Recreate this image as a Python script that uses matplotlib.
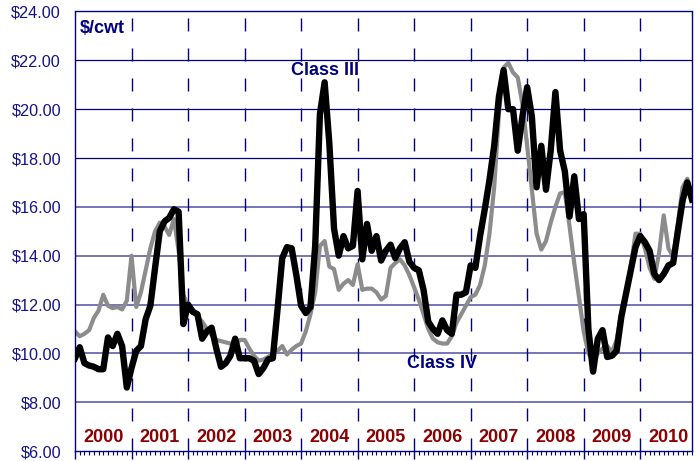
"""Class III vs Class IV milk prices, 2000-2010."""
import numpy as np
from matplotlib import pyplot as plt

plt.rcParams['font.family'] = ['Liberation Sans', 'DejaVu Sans']

years = ['2000', '2001', '2002', '2003', '2004', '2005',
         '2006', '2007', '2008', '2009', '2010']

# monthly prices, $/cwt
class_iii = [
    9.8, 10.25, 9.6, 9.5, 9.45, 9.35, 9.35, 10.65, 10.3, 10.8, 10.3, 8.6,
    9.4, 10.1, 10.3, 11.4, 11.95, 13.5, 15.0, 15.4, 15.55, 15.9, 15.8, 11.2,
    12.0, 11.7, 11.6, 10.6, 10.9, 11.05, 10.2, 9.45, 9.6, 9.9, 10.6, 9.8,
    9.8, 9.8, 9.7, 9.15, 9.4, 9.75, 9.8, 11.8, 13.9, 14.35, 14.3, 13.2,
    11.95, 11.65, 11.9, 14.4, 19.8, 21.1, 18.6, 15.1, 14.0, 14.8, 14.3, 14.4,
    16.65, 13.85, 15.3, 14.2, 14.8, 13.8, 14.2, 14.45, 13.9, 14.3, 14.55, 13.75,
    13.5, 13.4, 12.6, 11.3, 11.0, 10.8, 11.35, 10.95, 10.8, 12.4, 12.4, 12.5,
    13.6, 13.5, 14.8, 15.9, 17.1, 18.5, 20.5, 21.6, 20.0, 20.0, 18.3, 19.7,
    20.9, 19.7, 16.8, 18.5, 16.7, 18.3, 20.7, 18.3, 17.45, 15.6, 17.25, 15.5,
    15.7, 11.0, 9.25, 10.6, 10.95, 9.85, 9.9, 10.1, 11.5, 12.45, 13.4, 14.35,
    14.8, 14.55, 14.2, 13.25, 13.0, 13.25, 13.6, 13.7, 15.0, 16.25, 17.0, 16.3,
]
class_iv = [
    10.9, 10.7, 10.8, 10.95, 11.45, 11.75, 12.4, 11.95, 11.85, 11.9, 11.8, 12.15,
    14.0, 11.9, 12.5, 13.4, 14.3, 15.0, 15.35, 15.2, 14.85, 15.5, 14.2, 12.4,
    11.95, 11.8, 11.5, 11.3, 11.0, 10.75, 10.55, 10.5, 10.45, 10.4, 10.3, 10.55,
    10.55, 10.2, 9.9, 9.7, 9.75, 9.85, 10.0, 10.1, 10.3, 9.95, 10.15, 10.3,
    10.4, 10.9, 11.6, 12.5, 14.4, 14.6, 13.55, 13.45, 12.6, 12.85, 13.0, 12.8,
    13.65, 12.6, 12.65, 12.65, 12.5, 12.2, 12.35, 13.5, 13.7, 13.85, 13.6, 13.2,
    12.7, 12.2, 11.6, 11.0, 10.6, 10.45, 10.4, 10.4, 10.7, 11.25, 11.6, 11.95,
    12.3, 12.4, 12.8, 13.6, 14.9, 16.8, 19.8, 21.7, 21.9, 21.5, 21.3, 20.2,
    18.5, 16.7, 14.9, 14.25, 14.6, 15.35, 16.0, 16.55, 16.6, 15.2, 13.7, 12.3,
    10.9, 10.0, 9.7, 10.0, 10.2, 10.3, 10.05, 10.55, 11.65, 12.45, 13.55, 14.9,
    14.9, 14.3, 13.5, 13.05, 14.1, 15.65, 14.3, 13.95, 15.3, 16.8, 17.15, 16.5,
]

navy = '#000080'
grid_light = '#5c5cab'
months = np.arange(len(class_iii))

fig = plt.figure(figsize=(7.0, 4.61), dpi=100)
ax = fig.add_axes([75 / 700, 10 / 461, 617 / 700, 439.5 / 461])

# grid: solid horizontals, dashed year dividers
for v in range(8, 24, 2):
    if v >= 18:
        ax.axhline(v, color=navy, linewidth=0.9, zorder=1)
    else:
        ax.axhline(v, color=grid_light, linewidth=1.2, zorder=1)
for k in range(1, len(years)):
    ax.axvline(12 * k, color=navy, linewidth=1.0, dashes=(9.4, 12.2), zorder=1)

ax.plot(months, class_iv, color='#8c8c8c', linewidth=3.0,
        solid_joinstyle='round', zorder=2)
ax.plot(months, class_iii, color='black', linewidth=4.6,
        solid_joinstyle='round', zorder=3)

ax.set_xlim(0, len(months) - 1)
ax.set_ylim(6, 24)
ax.set_yticks(range(6, 25, 2))
ax.set_yticklabels([f'${v:.2f}' for v in range(6, 25, 2)])
ax.tick_params(axis='y', length=0, pad=10, labelsize=11.7, labelcolor='#141488')

ax.set_xticks(range(0, len(months), 12))
ax.set_xticklabels([])
ax.set_xticks(range(len(months)), minor=True)
ax.tick_params(axis='x', which='major', length=6, width=1.0, color=navy)
ax.tick_params(axis='x', which='minor', length=3, width=0.8, color=navy)

for s in ax.spines.values():
    s.set_color(navy)
    s.set_linewidth(1.0)

for k, yr in enumerate(years):
    ax.text(12 * k + 6, 6.55, yr, ha='center', va='center', fontsize=13,
            fontweight='bold', color='#8b0000')

ax.text(1.0, 23.3, '$/cwt', ha='left', va='center', fontsize=13,
        fontweight='bold', color=navy)
ax.text(53, 21.6, 'Class III', ha='center', va='center', fontsize=13,
        fontweight='bold', color=navy)
ax.text(78, 9.6, 'Class IV', ha='center', va='center', fontsize=13,
        fontweight='bold', color=navy)

fig.savefig('out.png', dpi=100)
